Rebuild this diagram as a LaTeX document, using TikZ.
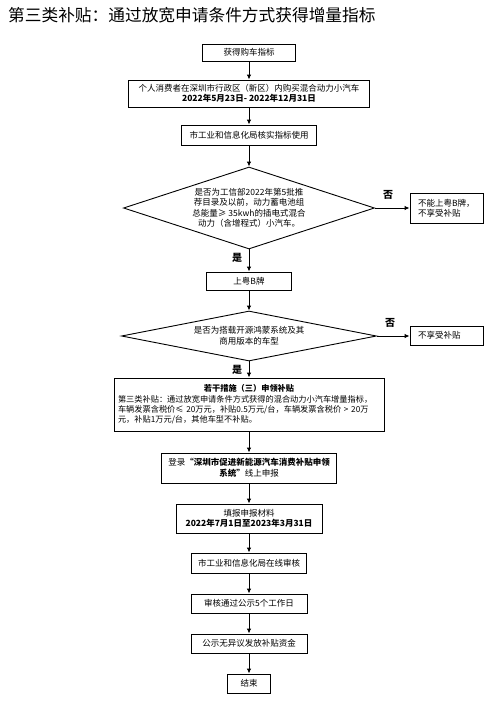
\documentclass[tikz,border=0pt]{standalone}
\usepackage{fontspec}
\setmainfont{Noto Sans CJK SC}
\usetikzlibrary{shapes.geometric,arrows.meta}

\begin{document}
\begin{tikzpicture}[x=1pt,y=-1pt,
  box/.style={draw,line width=0.9pt,inner sep=0pt,align=center,font=\fontsize{8.5}{10.5}\selectfont},
  choice/.style={draw,diamond,line width=0.9pt,inner sep=0pt,align=center,aspect=3,font=\fontsize{8.5}{10.5}\selectfont},
  answer/.style={inner sep=0pt,font=\fontsize{10}{12}\selectfont\bfseries},
  arr/.style={line width=0.9pt,-{Latex[length=5pt,width=4.5pt]}}]
  \useasboundingbox (0,0) rectangle (499,702);
  \node[anchor=west,inner sep=0pt,font=\fontsize{16.7}{20}\selectfont] (title) at (8,15) {第三类补贴：通过放宽申请条件方式获得增量指标};
  \node[box,minimum width=93pt,minimum height=17pt] (get) at (249,52.5) {获得购车指标};
  \node[box,minimum width=241pt,minimum height=27pt] (buy) at (249,93.5) {个人消费者在深圳市行政区（新区）内购买混合动力小汽车\\\textbf{2022年5月23日- 2022年12月31日}};
  \node[box,minimum width=135pt,minimum height=20pt] (check) at (249,135) {市工业和信息化局核实指标使用};
  \node[choice,minimum width=251pt,minimum height=82pt] (q1) at (249,208) {是否为工信部2022年第5批推\\荐目录及以前，动力蓄电池组\\总能量≥ 35kwh的插电式混合\\动力（含增程式）小汽车。};
  \node[box,align=left,text width=57pt,inner xsep=8pt,minimum height=30pt] (no1) at (446.5,208) {不能上粤B牌，\\不享受补贴};
  \node[box,minimum width=85pt,minimum height=18pt] (plate) at (249,281) {上粤B牌};
  \node[choice,aspect=5,minimum width=255pt,minimum height=50pt] (q2) at (249,336) {是否为搭载开源鸿蒙系统及其\\商用版本的车型};
  \node[box,align=left,text width=57pt,inner xsep=8pt,minimum height=19pt] (no2) at (446.5,335.5) {不享受补贴};
  \node[box,align=left,text width=262pt,inner xsep=4pt,minimum height=53pt,font=\fontsize{8.2}{10.3}\selectfont] (sub) at (249,404.5) {\makebox[262pt]{\textbf{若干措施（三）申领补贴}}\\第三类补贴：通过放宽申请条件方式获得的混合动力小汽车增量指标，\\车辆发票含税价≤ 20万元，补贴0.5万元/台，车辆发票含税价 > 20万\\元，补贴1万元/台，其他车型不补贴。};
  \node[box,minimum width=175pt,minimum height=30pt] (login) at (249,468) {登录\textbf{“深圳市促进新能源汽车消费补贴申领}\\\textbf{系统”}线上申报};
  \node[box,minimum width=146pt,minimum height=29pt] (fill) at (249,518.5) {填报申报材料\\\textbf{2022年7月1日至2023年3月31日}};
  \node[box,minimum width=115pt,minimum height=20pt] (online) at (249,563) {市工业和信息化局在线审核};
  \node[box,minimum width=116pt,minimum height=19pt] (show) at (249,603.5) {审核通过公示5个工作日};
  \node[box,minimum width=116pt,minimum height=19pt] (pay) at (249,643.5) {公示无异议发放补贴资金};
  \node[box,minimum width=43pt,minimum height=19pt] (end) at (249,683.5) {结束};
  \node[answer] (no1l) at (388,195) {否};
  \node[answer] (no2l) at (390,323) {否};
  \node[answer] (yes1l) at (237,258) {是};
  \node[answer] (yes2l) at (237,370) {是};
  \draw[arr] (get) -- (buy);
  \draw[arr] (buy) -- (check);
  \draw[arr] (check) -- (q1);
  \draw[arr] (q1) -- (no1);
  \draw[arr] (q1) -- (plate);
  \draw[arr] (plate) -- (q2);
  \draw[arr] (q2) -- (no2.west |- q2);
  \draw[arr] (q2) -- (sub);
  \draw[arr] (sub) -- (login);
  \draw[arr] (login) -- (fill);
  \draw[arr] (fill) -- (online);
  \draw[arr] (online) -- (show);
  \draw[arr] (show) -- (pay);
  \draw[arr] (pay) -- (end);
\end{tikzpicture}
\end{document}
